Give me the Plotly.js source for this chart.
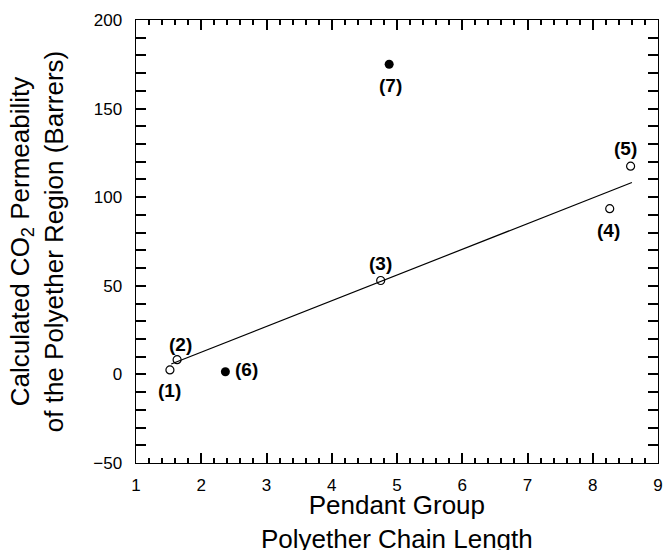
<!DOCTYPE html>
<html>
<head>
<meta charset="utf-8">
<script src="https://cdn.plot.ly/plotly-3.0.1.min.js"></script>
<style>html,body{margin:0;padding:0;background:#fff;}#chart{width:664px;height:550px;}</style>
</head>
<body>
<div id="chart"></div>
<script>
// Open circles: samples (1)-(5)
const openX = [1.52, 1.63, 4.75, 8.26, 8.58];
const openY = [2.5, 8.3, 53.0, 93.5, 117.5];
const openLabels = ["(1)", "(2)", "(3)", "(4)", "(5)"];
// Filled circles: samples (6),(7)
const fillX = [2.37, 4.88];
const fillY = [1.5, 175.0];
const fillLabels = ["(6)", "(7)"];
// Fitted line endpoints
const lineX = [1.54, 8.6];
const lineY = [5.9, 108.3];
// Axis ranges and tick steps
const xRange = [1, 9];
const yRange = [-50, 200];
const xMajor = 1, xMinor = 0.2;
const yMajor = 50, yMinor = 10;
const xTitle = 'Pendant Group<br>Polyether Chain Length';
const yTitle = 'Calculated CO<sub>2</sub> Permeability<br>of the Polyether Region (Barrers)';

const FONT = "Arial, 'Liberation Sans', Helvetica, sans-serif";

const openShift = [[0, -21], [3, 15], [0, 17], [-1, -22], [-5, 18]];
const fillShift = [[21, 2], [1, -21]];

const annotations = [];
openX.forEach((x, i) => annotations.push({
  x: x, y: openY[i], xref: 'x', yref: 'y', text: '<b>' + openLabels[i] + '</b>',
  showarrow: false, xshift: openShift[i][0], yshift: openShift[i][1],
  font: {family: FONT, size: 19, color: '#000'}
}));
fillX.forEach((x, i) => annotations.push({
  x: x, y: fillY[i], xref: 'x', yref: 'y', text: '<b>' + fillLabels[i] + '</b>',
  showarrow: false, xshift: fillShift[i][0], yshift: fillShift[i][1],
  font: {family: FONT, size: 19, color: '#000'}
}));
// x-axis title as a paper-anchored text below the tick labels
annotations.push({
  x: 0.5, y: -0.109, xref: 'paper', yref: 'paper', xanchor: 'center', yanchor: 'middle',
  text: xTitle, showarrow: false, font: {family: FONT, size: 26, color: '#000'}
});

const traces = [
  {x: lineX, y: lineY, xaxis: 'x2', yaxis: 'y2', mode: 'lines', line: {color: '#000', width: 1.2}, hoverinfo: 'skip'},
  {x: openX, y: openY, xaxis: 'x3', yaxis: 'y', mode: 'markers',
   marker: {symbol: 'circle-open', size: 8, color: '#000', line: {width: 1.2, color: '#000'}}},
  {x: fillX, y: fillY, xaxis: 'x', yaxis: 'y', mode: 'markers',
   marker: {symbol: 'circle', size: 9, color: '#000'}}
];

function tickAxis(range, major, minor) {
  return {
    range: range, tickmode: 'linear', tick0: range[0], dtick: major,
    showgrid: false, zeroline: false, showline: true, linecolor: '#000', linewidth: 1,
    mirror: 'allticks', ticks: 'inside', ticklen: 10, tickwidth: 2, tickcolor: '#000',
    minor: {ticks: 'inside', dtick: minor, ticklen: 5, tickwidth: 2, tickcolor: '#000', showgrid: false},
    showticklabels: false
  };
}

const layout = {
  width: 664, height: 550,
  margin: {l: 136, r: 6, t: 20, b: 77},
  paper_bgcolor: '#fff', plot_bgcolor: '#fff',
  showlegend: false,
  font: {family: FONT, color: '#000'},
  xaxis: Object.assign(tickAxis(xRange, xMajor, xMinor), {anchor: 'y', side: 'bottom'}),
  xaxis2: Object.assign(tickAxis(xRange, xMajor, xMinor), {overlaying: 'x', anchor: 'y', side: 'top'}),
  xaxis3: {
    overlaying: 'x', anchor: 'free', position: 0, side: 'bottom',
    range: xRange, tickmode: 'linear', tick0: xRange[0], dtick: xMajor,
    showgrid: false, zeroline: false, showline: false, ticks: '',
    tickfont: {family: FONT, size: 17, color: '#000'}
  },
  yaxis: Object.assign(tickAxis(yRange, yMajor, yMinor), {
    domain: [0.0221, 1], anchor: 'x', side: 'left', showticklabels: true,
    tickfont: {family: FONT, size: 17, color: '#000'},
    ticksuffix: '  ',
    title: {text: yTitle, font: {family: FONT, size: 26, color: '#000'}, standoff: 22}
  }),
  yaxis2: Object.assign(tickAxis(yRange, yMajor, yMinor), {overlaying: 'y', anchor: 'x', side: 'right'}),
  annotations: annotations
};

Plotly.newPlot('chart', traces, layout, {displayModeBar: false});
</script>
</body>
</html>
